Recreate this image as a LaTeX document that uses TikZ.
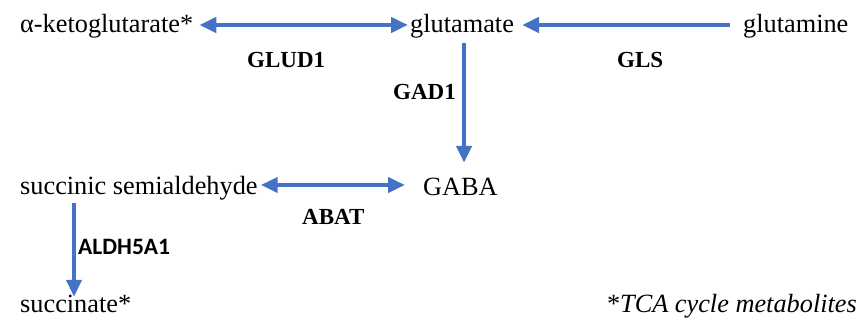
\documentclass[tikz,border=0pt]{standalone}
\usepackage{fontspec}
\setmainfont{Liberation Serif}
\newfontfamily\calib{Carlito}
\usetikzlibrary{arrows.meta}
\definecolor{flowblue}{RGB}{68,114,196}
\tikzset{
  metab/.style={anchor=base west, inner sep=0pt, text height=22pt, text depth=6pt,
                font=\fontsize{26.3}{31}\selectfont},
  enzyme/.style={anchor=base west, inner sep=0pt, font=\fontsize{23}{27}\selectfont\bfseries},
  flow/.style={line width=4.5pt, draw=flowblue, -{Triangle[length=17pt,width=15pt]}},
  twoway/.style={line width=4.5pt, draw=flowblue,
                 {Triangle[length=17pt,width=15pt]}-{Triangle[length=17pt,width=15pt]}}
}
\begin{document}
\begin{tikzpicture}[x=1pt,y=1pt]
\useasboundingbox (0,0) rectangle (861,323);

% metabolites
\node[metab] (akg)  at (20,290)  {α-ketoglutarate*};
\node[metab] (glu)  at (410,290) {glutamate};
\node[metab] (gln)  at (743,290) {glutamine};
\node[metab] (gaba) at (423,127) {GABA};
\node[metab] (ssa)  at (20,128)  {succinic semialdehyde};
\node[metab] (succ) at (20,10)   {succinate*};
\node[anchor=base east, inner sep=0pt, font=\fontsize{26.3}{31}\selectfont]
     (note) at (857,10) {*\textit{TCA cycle metabolites}};

% enzymes
\node[enzyme] (glud1) at (247,255) {GLUD1};
\node[enzyme] (gls)   at (617,255) {GLS};
\node[enzyme] (gad1)  at (393,223) {GAD1};
\node[enzyme] (abat)  at (302,98)  {ABAT};
\node[anchor=base west, inner sep=0pt, font=\fontsize{23.5}{27}\selectfont\calib\bfseries]
     (aldh) at (78,68) {ALDH5A1};

% reactions
\draw[twoway] ([xshift=6pt]akg.east) -- ([xshift=-2pt]glu.west);
\draw[flow]   ([xshift=-13pt]gln.west) -- ([xshift=8pt]glu.east);

\coordinate (gadtop) at ([xshift=2pt,yshift=-4pt]glu.south);
\coordinate (gadend) at (gadtop |- gaba.north);
\draw[flow] (gadtop) -- ([yshift=11pt]gadend);

\coordinate (abatl) at ([xshift=3pt,yshift=2pt]ssa.east);
\coordinate (abatr) at (abatl -| gaba.west);
\draw[twoway] (abatl) -- ([xshift=-18pt]abatr);

\coordinate (aldtop) at ([xshift=54pt,yshift=-2pt]ssa.south west);
\coordinate (aldend) at (aldtop |- succ.north);
\draw[flow] (aldtop) -- ([yshift=-6pt]aldend);
\end{tikzpicture}
\end{document}
